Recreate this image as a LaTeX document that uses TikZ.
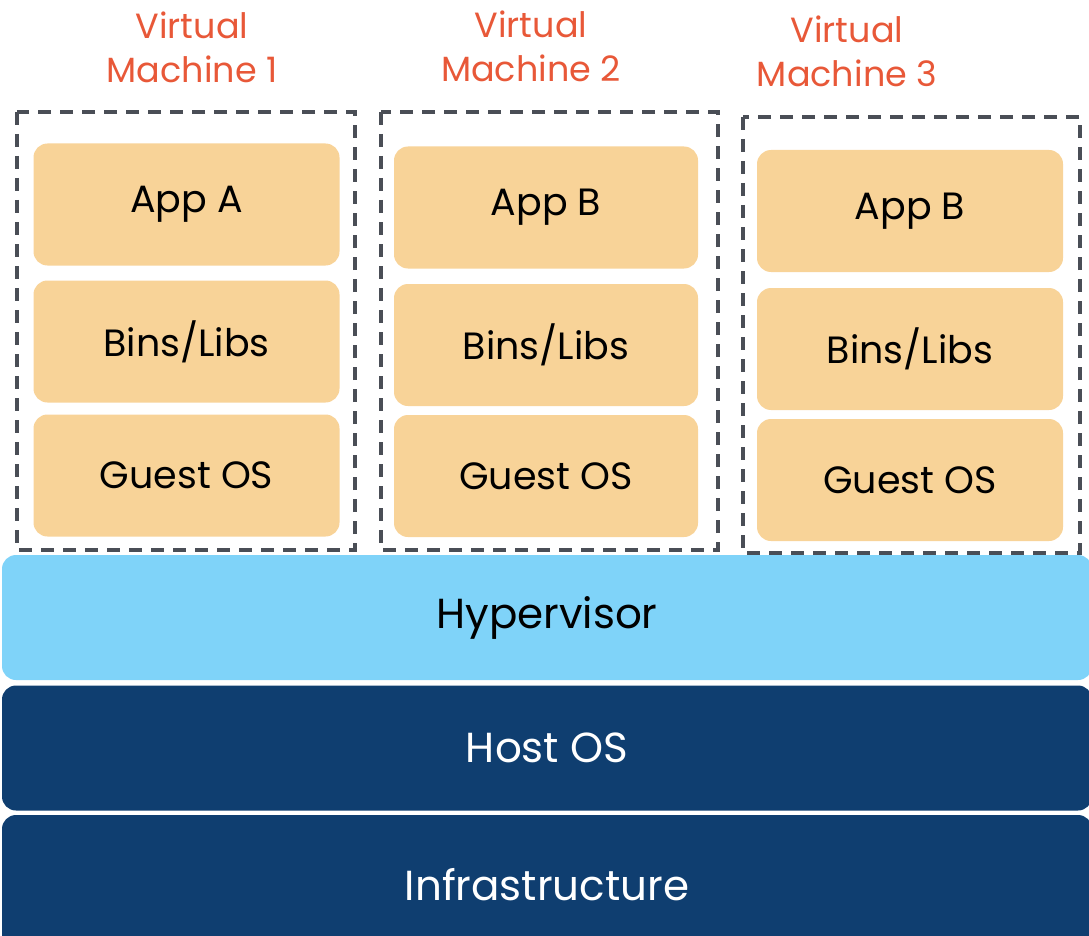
\documentclass[tikz,border=0pt]{standalone}
\usepackage{fontspec}
\setmainfont{Poppins}
\definecolor{vmtitle}{RGB}{232,88,56}
\definecolor{layerfill}{RGB}{248,211,152}
\definecolor{hyperfill}{RGB}{127,211,249}
\definecolor{hostfill}{RGB}{15,62,112}
\definecolor{dashgray}{RGB}{74,78,86}
\begin{document}
\begin{tikzpicture}[x=1pt, y=-1pt,
  every node/.style = {align=center, inner sep=0pt},
  vmbox/.style = {draw=dashgray, line width=4pt,
    dash pattern=on 13pt off 9pt},
  layer/.style = {fill=layerfill, rounded corners=14pt,
    minimum width=306pt, minimum height=122pt,
    font=\fontsize{38}{44}\selectfont},
  base/.style = {rounded corners=14pt,
    minimum width=1090pt, minimum height=125pt,
    font=\fontsize{42}{50}\selectfont},
  title/.style = {text=vmtitle, font=\fontsize{35}{44}\selectfont}]
  \useasboundingbox (0,0) rectangle (1089,936);

  % virtual machine 1
  \draw[vmbox] (17,112) rectangle (355,550);
  \node[title] (title1) at (192,47) {Virtual\\Machine 1};
  \node[layer] (app1) at (186.5,204.5) {App A};
  \node[layer] (bins1) at (186.5,341.5) {Bins/Libs};
  \node[layer] (guest1) at (186.5,475.5) {Guest OS};

  % virtual machine 2
  \draw[vmbox] (381,112) rectangle (718,550);
  \node[title] (title2) at (531,46) {Virtual\\Machine 2};
  \node[layer, minimum width=304pt] (app2) at (546,207.5) {App B};
  \node[layer, minimum width=304pt] (bins2) at (546,345) {Bins/Libs};
  \node[layer, minimum width=304pt] (guest2) at (546,476) {Guest OS};

  % virtual machine 3
  \draw[vmbox] (743,117) rectangle (1080,553);
  \node[title] (title3) at (847,51) {Virtual\\Machine 3};
  \node[layer] (app3) at (910,211) {App B};
  \node[layer] (bins3) at (910,349) {Bins/Libs};
  \node[layer] (guest3) at (910,480) {Guest OS};

  % shared layers
  \node[base, fill=hyperfill] (hyper) at (547,617.5) {Hypervisor};
  \node[base, fill=hostfill, text=white] (host) at (547,748) {Host OS};
  \node[base, fill=hostfill, text=white, minimum height=140pt]
    (infra) at (547,885) {Infrastructure};
\end{tikzpicture}
\end{document}
